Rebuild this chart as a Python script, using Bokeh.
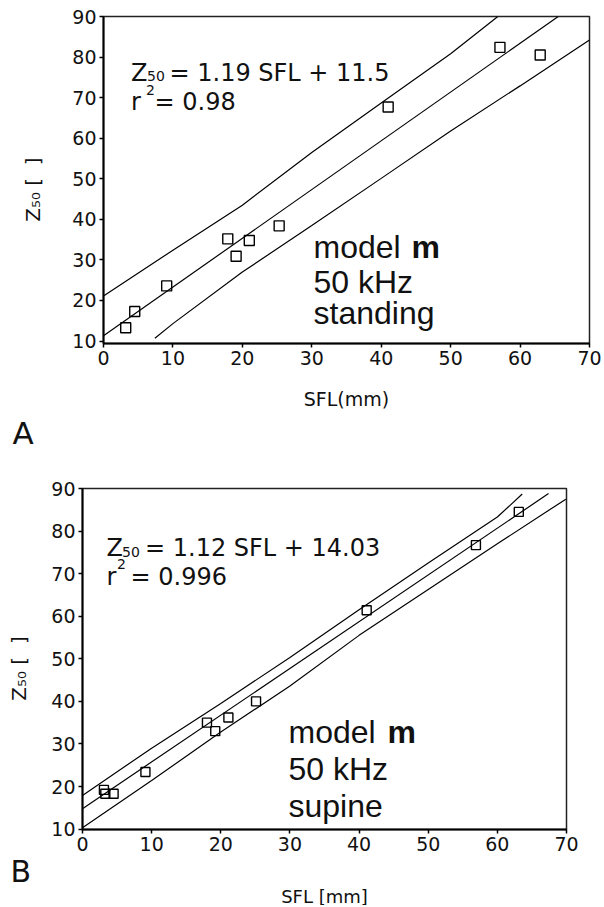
from bokeh.plotting import figure
from bokeh.models import Label, FixedTicker, Title
from bokeh.embed import file_html
from bokeh.resources import INLINE

# ---------------- data ----------------
# Panel A: model m, 50 kHz, standing
a_sfl = [3.2, 4.5, 9.1, 17.9, 19.1, 21.0, 25.3, 41.0, 57.1, 62.9]
a_z50 = [13.3, 17.3, 23.6, 35.2, 30.9, 34.8, 38.4, 67.7, 82.4, 80.5]
a_fit_x = [0.0, 65.5]
a_fit_y = [11.3, 90.0]
a_upper_x = [0, 10, 20, 30, 40, 50, 56.8]
a_upper_y = [21.1, 32.4, 43.5, 56.5, 68.7, 80.8, 90.0]
a_lower_x = [7.4, 10, 20, 30, 40, 50, 60, 70]
a_lower_y = [10.7, 14.3, 27.0, 38.5, 50.1, 61.8, 72.9, 84.2]

# Panel B: model m, 50 kHz, supine
b_sfl = [3.1, 3.3, 4.5, 9.1, 18.0, 19.2, 21.1, 25.1, 41.1, 56.9, 63.1]
b_z50 = [19.2, 18.3, 18.3, 23.4, 35.0, 33.0, 36.2, 40.0, 61.4, 76.7, 84.5]
b_fit_x = [0.0, 67.4]
b_fit_y = [14.8, 88.8]
b_upper_x = [0, 10, 20, 30, 40, 50, 60, 63.6]
b_upper_y = [17.9, 29.0, 39.5, 50.3, 61.5, 72.5, 83.3, 88.7]
b_lower_x = [0, 10, 20, 30, 40, 50, 60, 69.9]
b_lower_y = [10.3, 21.4, 32.8, 43.6, 55.5, 66.3, 77.0, 87.5]

x_ticks = [0, 10, 20, 30, 40, 50, 60, 70]
y_ticks = [10, 20, 30, 40, 50, 60, 70, 80, 90]

a_equation = "= 1.19 SFL + 11.5"
a_r2 = "= 0.98"
b_equation = "= 1.12 SFL + 14.03"
b_r2 = "= 0.996"
a_xlabel = "SFL(mm)"
b_xlabel = "SFL [mm]"
ylabel = "Z\u2085\u2080 [\u00a0\u00a0]\u00a0\u00a0\u00a0"

TXT = "#111111"
FONT = "DejaVu Sans"


def make_panel(height, bl, br, bt, bb, ymin, ystand):
    p = figure(width=604, height=height, x_range=(0, 70), y_range=(ymin, 90),
               output_backend="svg", toolbar_location=None,
               min_border_left=bl, min_border_right=br,
               min_border_top=bt, min_border_bottom=bb)
    p.grid.visible = False
    p.outline_line_color = "#222222"
    p.outline_line_width = 1.5
    for ax in (p.xaxis, p.yaxis):
        ax.axis_line_width = 2
        ax.axis_line_color = "black"
        ax.major_tick_out = 4
        ax.major_tick_in = 0
        ax.minor_tick_line_color = None
        ax.major_tick_line_width = 1.5
        ax.major_label_text_font = FONT
        ax.major_label_text_font_size = "19px"
        ax.major_label_text_color = TXT
        ax.axis_label_text_font = FONT
        ax.axis_label_text_font_style = "normal"
        ax.axis_label_text_color = TXT
    p.xaxis.ticker = FixedTicker(ticks=x_ticks)
    p.yaxis.ticker = FixedTicker(ticks=y_ticks)
    p.xaxis.major_label_standoff = 3
    p.yaxis.major_label_standoff = 3
    p.yaxis.axis_label = ylabel
    p.yaxis.axis_label_text_font_size = "20px"
    p.yaxis.axis_label_standoff = ystand
    return p


def add_text(p, x, y, text, size, font=FONT, bold=False):
    p.add_layout(Label(x=x, y=y, text=text, text_font=font,
                       text_font_size=f"{size}px", text_color=TXT,
                       text_baseline="alphabetic", text_align="left",
                       text_font_style="bold" if bold else "normal"))


def add_title(p, text, size, align, offset, standoff):
    p.add_layout(Title(text=text, align=align, text_font=FONT,
                       text_font_size=f"{size}px", text_font_style="normal",
                       text_color=TXT, offset=offset, standoff=standoff), "below")


def draw_data(p, xs, ys, fx, fy, ux, uy, lx, ly, msize):
    p.line(fx, fy, line_color="black", line_width=1.2)
    p.line(ux, uy, line_color="black", line_width=1.2)
    p.line(lx, ly, line_color="black", line_width=1.2)
    p.scatter(xs, ys, marker="square", size=msize, fill_color=None,
              line_color="black", line_width=1.4)


# ---------------- Panel A ----------------
# frame in page pixels: left 103, right 589, top 16, bottom 352
A_H = 450
A_L, A_R, A_T, A_B, A_YMIN = 103.0, 589.0, 16.0, 352.0, 9.4
pA = make_panel(A_H, 103, 15, 16, A_H - 352, A_YMIN, 24)
pA.xaxis.axis_label = a_xlabel
pA.xaxis.axis_label_text_font_size = "19px"
pA.xaxis.axis_label_standoff = 20


def ax_(px):
    return (px - A_L) * 70.0 / (A_R - A_L)


def ay_(py):
    return 90.0 - (py - A_T) * (90.0 - A_YMIN) / (A_B - A_T)


draw_data(pA, a_sfl, a_z50, a_fit_x, a_fit_y, a_upper_x, a_upper_y,
          a_lower_x, a_lower_y, 10)

add_text(pA, ax_(130.5), ay_(74), "Z", 24)
add_text(pA, ax_(146.5), ay_(77.5), "50", 14)
add_text(pA, ax_(169), ay_(74), a_equation, 24)
add_text(pA, ax_(130.5), ay_(104), "r", 24)
add_text(pA, ax_(145.5), ay_(92), "2", 14)
add_text(pA, ax_(154), ay_(104), a_r2, 24)

add_text(pA, ax_(313), ay_(253), "model", 32, font="Liberation Sans")
add_text(pA, ax_(411), ay_(253), "m", 32, font="Liberation Sans", bold=True)
add_text(pA, ax_(313), ay_(289), "50 kHz", 32, font="Liberation Sans")
add_text(pA, ax_(313), ay_(321), "standing", 32, font="Liberation Sans")
add_title(pA, "A", 31, "left", -91, 0)

# ---------------- Panel B ----------------
# frame in page pixels: left 82, right 566, top 488, bottom 829
B_H = 905 - A_H
B_L, B_R, B_T, B_B, B_YMIN = 82.0, 566.0, 488.0, 829.0, 9.9
pB = make_panel(B_H, 82, 38, 488 - A_H, B_H - (829 - A_H), B_YMIN, 17)


def bx_(px):
    return (px - B_L) * 70.0 / (B_R - B_L)


def by_(py):
    return 90.0 - (py - B_T) * (90.0 - B_YMIN) / (B_B - B_T)


draw_data(pB, b_sfl, b_z50, b_fit_x, b_fit_y, b_upper_x, b_upper_y,
          b_lower_x, b_lower_y, 9)

add_text(pB, bx_(106), by_(547.3), "Z", 24)
add_text(pB, bx_(121.5), by_(551), "50", 14)
add_text(pB, bx_(144.5), by_(547.3), b_equation, 24)
add_text(pB, bx_(106), by_(576), "r", 24)
add_text(pB, bx_(116.5), by_(563), "2", 14)
add_text(pB, bx_(130), by_(576), b_r2, 24)

add_text(pB, bx_(288), by_(731.5), "model", 32, font="Liberation Sans")
add_text(pB, bx_(387), by_(731.5), "m", 32, font="Liberation Sans", bold=True)
add_text(pB, bx_(288), by_(768), "50 kHz", 32, font="Liberation Sans")
add_text(pB, bx_(288), by_(805), "supine", 32, font="Liberation Sans")
add_title(pB, "B", 30, "left", -72, -3)
add_title(pB, b_xlabel, 18, "center", 0, -8)

open("out.html", "w").write(file_html([pA, pB], INLINE))
